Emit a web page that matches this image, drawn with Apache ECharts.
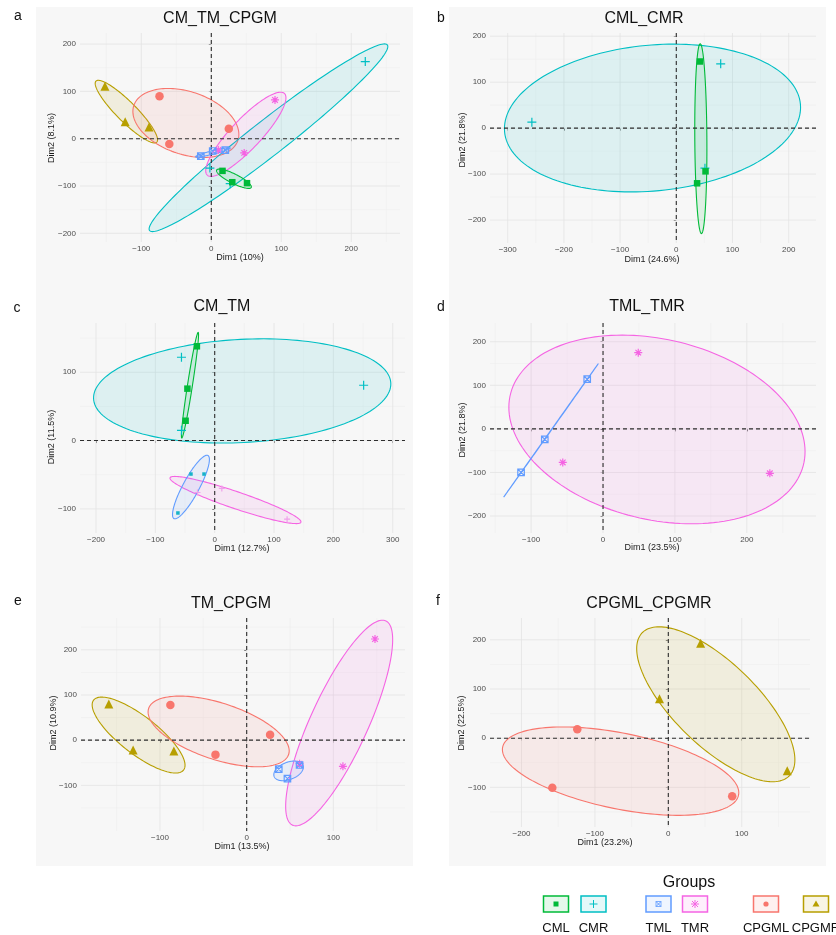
<!DOCTYPE html>
<html>
<head>
<meta charset="utf-8">
<script src="https://cdn.jsdelivr.net/npm/echarts@6/dist/echarts.min.js"></script>
<style>
  html, body { margin: 0; padding: 0; background: #ffffff; }
  #chart { width: 836px; height: 935px; }
</style>
</head>
<body>
<div id="chart"></div>
<script>
// ---------- PCA individual coordinates (Dim1, Dim2) per group ----------
// a: CM_TM_CPGM
const a_CML   = [[16, -68], [30, -92], [51, -94]];
const a_CMR   = [[220, 163], [27, -95], [-2, -62]];
const a_TML   = [[-15, -37], [2, -26], [20, -24]];
const a_TMR   = [[91, 82], [47, -30], [10, -24]];
const a_CPGML = [[-74, 90], [-60, -11], [25, 21]];
const a_CPGMR = [[-152, 111], [-123, 36], [-89, 25]];
// b: CML_CMR
const b_CML = [[42, 145], [52, -94], [37, -120]];
const b_CMR = [[-257, 13], [79, 140], [51, -87]];
// c: CM_TM
const c_CML = [[-30, 138], [-46, 76], [-49, 29]];
const c_CMR = [[-56, 122], [251, 81], [-56, 15]];
const c_TML = [[-40, -49], [-18, -49], [-62, -106]];
const c_TMR = [[12, -70], [122, -115], [-29, -76]];
// d: TML_TMR
const d_TML = [[-114, -100], [-81, -24], [-22, 114]];
const d_TMR = [[49, 175], [-56, -77], [232, -102]];
// e: TM_CPGM
const e_TML   = [[37, -64], [47, -85], [61, -55]];
const e_TMR   = [[148, 224], [111, -58], [61, -52]];
const e_CPGML = [[-88, 78], [-36, -32], [27, 12]];
const e_CPGMR = [[-159, 80], [-131, -22], [-84, -24]];
// f: CPGML_CPGMR
const f_CPGML = [[-124, 18], [-158, -101], [87, -118]];
const f_CPGMR = [[-12, 80], [44, 193], [162, -66]];

// ---------- axis ticks ----------
const aXTicks = [-100, 0, 100, 200],        aYTicks = [-200, -100, 0, 100, 200];
const bXTicks = [-300, -200, -100, 0, 100, 200], bYTicks = [-200, -100, 0, 100, 200];
const cXTicks = [-200, -100, 0, 100, 200, 300],  cYTicks = [-100, 0, 100];
const dXTicks = [-100, 0, 100, 200],        dYTicks = [-200, -100, 0, 100, 200];
const eXTicks = [-100, 0, 100],             eYTicks = [-100, 0, 100, 200];
const fXTicks = [-200, -100, 0, 100],       fYTicks = [-100, 0, 100, 200];

const groupOrder = ['CML', 'CMR', 'TML', 'TMR', 'CPGML', 'CPGMR'];
const groupColors = {
  CML: '#00BA38', CMR: '#00BFC4', TML: '#619CFF',
  TMR: '#F564E3', CPGML: '#F8766D', CPGMR: '#B79F00'
};

// ---------- symbols ----------
const PLUS = 'path://M5,0L5,10M0,5L10,5';
const STAR = 'path://M5,0L5,10M0,5L10,5M1.5,1.5L8.5,8.5M8.5,1.5L1.5,8.5';
const BOXX = 'path://M0,0L10,0L10,10L0,10ZM0,0L10,10M10,0L0,10';
const shapes = {
  CML:   { symbol: 'rect', size: 6.5, filled: true },
  CMR:   { symbol: PLUS, size: 9, filled: false },
  TML:   { symbol: BOXX, size: 6.5, filled: false },
  TMR:   { symbol: STAR, size: 8, filled: false },
  CPGML: { symbol: 'circle', size: 8.5, filled: true },
  CPGMR: { symbol: 'triangle', size: 9, filled: true }
};

// ---------- panels ----------
const panels = [
  { title: 'CM_TM_CPGM', letter: 'a', xName: 'Dim1 (10%)', yName: 'Dim2 (8.1%)',
    x: [-187.6, 269.6], y: [-218.4, 223.5], xTicks: aXTicks, yTicks: aYTicks, level: 0.95,
    groups: { CPGMR: a_CPGMR, CPGML: a_CPGML, CMR: a_CMR, TMR: a_TMR, TML: a_TML, CML: a_CML } },
  { title: 'CML_CMR', letter: 'b', xName: 'Dim1 (24.6%)', yName: 'Dim2 (21.8%)',
    x: [-331.5, 248.6], y: [-249.9, 207], xTicks: bXTicks, yTicks: bYTicks, level: 0.95,
    groups: { CMR: b_CMR, CML: b_CML } },
  { title: 'CM_TM', letter: 'c', xName: 'Dim1 (12.7%)', yName: 'Dim2 (11.5%)',
    x: [-227, 320.7], y: [-135.3, 172.1], xTicks: cXTicks, yTicks: cYTicks, level: 0.95,
    groups: { CMR: c_CMR, CML: c_CML, TMR: c_TMR, TML: c_TML },
    pointStyle: { TML: { symbol: 'rect', size: 3.5, filled: true, color: '#17B3C9' },
                  TMR: { symbol: PLUS, size: 6, filled: false, color: '#EFA0EA' } } },
  { title: 'TML_TMR', letter: 'd', xName: 'Dim1 (23.5%)', yName: 'Dim2 (21.8%)',
    x: [-157.2, 296.2], y: [-239, 243], xTicks: dXTicks, yTicks: dYTicks, level: 0.95,
    groups: { TMR: d_TMR, TML: d_TML } },
  { title: 'TM_CPGM', letter: 'e', xName: 'Dim1 (13.5%)', yName: 'Dim2 (10.9%)',
    x: [-191.1, 182.6], y: [-201.1, 270.5], xTicks: eXTicks, yTicks: eYTicks, level: 0.95,
    groups: { CPGMR: e_CPGMR, CPGML: e_CPGML, TMR: e_TMR, TML: e_TML } },
  { title: 'CPGML_CPGMR', letter: 'f', xName: 'Dim1 (23.2%)', yName: 'Dim2 (22.5%)',
    x: [-242.9, 193], y: [-180.6, 244.4], xTicks: fXTicks, yTicks: fYTicks, level: 0.89,
    groups: { CPGML: f_CPGML, CPGMR: f_CPGMR } }
];

// page layout: plot box [left, top, right, bottom], text anchors
const layout = [
  { box: [80, 33, 400, 242],  title: [220, 19],  letter: [18, 16],  xName: [240, 258], yName: [52, 138] },
  { box: [490, 33, 816, 243], title: [644, 19],  letter: [441, 18], xName: [652, 260], yName: [463, 140] },
  { box: [80, 323, 405, 533], title: [222, 307], letter: [17, 308], xName: [242, 549], yName: [52, 437] },
  { box: [490, 323, 816, 533], title: [647, 307], letter: [441, 307], xName: [652, 548], yName: [463, 430] },
  { box: [81, 618, 405, 831], title: [231, 604], letter: [18, 601], xName: [242, 847], yName: [54, 723] },
  { box: [490, 618, 810, 827], title: [649, 604], letter: [438, 601], xName: [605, 843], yName: [462, 723] }
];

const FONT = '"Liberation Sans", Arial, Helvetica, sans-serif';

function hexToRgba(hex, a) {
  const n = parseInt(hex.slice(1), 16);
  return 'rgba(' + ((n >> 16) & 255) + ',' + ((n >> 8) & 255) + ',' + (n & 255) + ',' + a + ')';
}

// confidence ellipse of the group barycentre (covariance / n)
function confidenceEllipse(pts, level, npoints) {
  const n = pts.length;
  let mx = 0, my = 0;
  pts.forEach(p => { mx += p[0]; my += p[1]; });
  mx /= n; my /= n;
  let sxx = 0, syy = 0, sxy = 0;
  pts.forEach(p => {
    sxx += (p[0] - mx) * (p[0] - mx);
    syy += (p[1] - my) * (p[1] - my);
    sxy += (p[0] - mx) * (p[1] - my);
  });
  sxx /= (n - 1) * n; syy /= (n - 1) * n; sxy /= (n - 1) * n;
  const sx = Math.sqrt(sxx), sy = Math.sqrt(syy);
  let r = sxy / (sx * sy);
  r = Math.max(-1, Math.min(1, r));
  const d = Math.acos(r);
  const t = Math.sqrt(-2 * Math.log(1 - level));
  const out = [];
  for (let i = 0; i < npoints; i++) {
    const a = 2 * Math.PI * i / npoints;
    out.push([t * sx * Math.cos(a + d / 2) + mx, t * sy * Math.cos(a - d / 2) + my]);
  }
  return { center: [mx, my], ring: out };
}

function minorBreaks(ticks, range) {
  const step = ticks[1] - ticks[0];
  const res = [];
  const start = ticks[0] - step;
  for (let v = start + step / 2; v <= range[1]; v += step) {
    if (v >= range[0]) res.push(v);
  }
  return res;
}

function fmt(v) { return v < 0 ? '\u2212' + Math.abs(v) : String(v); }

const grids = [], xAxes = [], yAxes = [], series = [], graphics = [];

// panel backgrounds
graphics.push({ type: 'rect', z: -10, shape: { x: 36, y: 7, width: 377, height: 859 }, style: { fill: '#f7f7f7' }, silent: true });
graphics.push({ type: 'rect', z: -10, shape: { x: 449, y: 7, width: 377, height: 859 }, style: { fill: '#f7f7f7' }, silent: true });

panels.forEach((p, i) => {
  const L = layout[i];
  const [l, t, r, b] = L.box;
  grids.push({ left: l, top: t, width: r - l, height: b - t, containLabel: false });
  xAxes.push({
    gridIndex: i, type: 'value', min: p.x[0], max: p.x[1],
    axisLine: { show: false }, splitLine: { show: false },
    axisTick: { show: true, customValues: p.xTicks, length: 2.5, lineStyle: { color: '#333', width: 0.8 } },
    axisLabel: { customValues: p.xTicks, fontSize: 8, color: '#4d4d4d', margin: 3, fontFamily: FONT, formatter: fmt }
  });
  yAxes.push({
    gridIndex: i, type: 'value', min: p.y[0], max: p.y[1],
    axisLine: { show: false }, splitLine: { show: false },
    axisTick: { show: true, customValues: p.yTicks, length: 2.5, lineStyle: { color: '#333', width: 0.8 } },
    axisLabel: { customValues: p.yTicks, fontSize: 8, color: '#4d4d4d', margin: 4, fontFamily: FONT, formatter: fmt }
  });

  const xMinor = minorBreaks(p.xTicks, p.x), yMinor = minorBreaks(p.yTicks, p.y);

  // background grid lines
  series.push({
    type: 'custom', xAxisIndex: i, yAxisIndex: i, z: 1, silent: true, animation: false,
    data: [[0, 0]],
    renderItem: function (params, api) {
      const cs = params.coordSys;
      const kids = [];
      const vline = (v, col, w) => {
        const px = api.coord([v, 0])[0];
        kids.push({ type: 'line', shape: { x1: px, y1: cs.y, x2: px, y2: cs.y + cs.height }, style: { stroke: col, lineWidth: w } });
      };
      const hline = (v, col, w) => {
        const py = api.coord([0, v])[1];
        kids.push({ type: 'line', shape: { x1: cs.x, y1: py, x2: cs.x + cs.width, y2: py }, style: { stroke: col, lineWidth: w } });
      };
      xMinor.forEach(v => vline(v, '#eeeeee', 0.6));
      yMinor.forEach(v => hline(v, '#eeeeee', 0.6));
      p.xTicks.forEach(v => vline(v, '#e3e3e3', 0.8));
      p.yTicks.forEach(v => hline(v, '#e3e3e3', 0.8));
      return { type: 'group', children: kids };
    }
  });

  // ellipses
  Object.keys(p.groups).forEach(g => {
    const e = confidenceEllipse(p.groups[g], p.level, 160);
    const col = groupColors[g];
    series.push({
      type: 'custom', name: g, xAxisIndex: i, yAxisIndex: i, z: 2, silent: true, animation: false, clip: true,
      data: [e.center],
      renderItem: function (params, api) {
        return {
          type: 'polygon',
          shape: { points: e.ring.map(q => api.coord(q)) },
          style: { fill: hexToRgba(col, 0.1), stroke: col, lineWidth: 1.1 }
        };
      }
    });
  });

  // dashed reference lines at 0
  series.push({
    type: 'custom', xAxisIndex: i, yAxisIndex: i, z: 3, silent: true, animation: false,
    data: [[0, 0]],
    renderItem: function (params, api) {
      const cs = params.coordSys;
      const o = api.coord([0, 0]);
      const st = { stroke: '#2e2e2e', lineWidth: 1.1, lineDash: [4, 3] };
      return { type: 'group', children: [
        { type: 'line', shape: { x1: cs.x, y1: o[1], x2: cs.x + cs.width, y2: o[1] }, style: st },
        { type: 'line', shape: { x1: o[0], y1: cs.y, x2: o[0], y2: cs.y + cs.height }, style: st }
      ] };
    }
  });

  // individuals
  Object.keys(p.groups).forEach(g => {
    const s = (p.pointStyle && p.pointStyle[g]) || shapes[g];
    const col = s.color || groupColors[g];
    series.push({
      type: 'scatter', name: g, xAxisIndex: i, yAxisIndex: i, z: 4, silent: true, animation: false,
      symbol: s.symbol, symbolSize: s.size,
      itemStyle: s.filled
        ? { color: col, borderWidth: 0, opacity: 1 }
        : { color: 'rgba(0,0,0,0)', borderColor: col, borderWidth: 1.2, opacity: 1 },
      data: p.groups[g]
    });
  });

  // panel texts
  graphics.push({ type: 'text', x: L.title[0], y: L.title[1], silent: true,
    style: { text: p.title, fontSize: 16, fontFamily: FONT, fill: '#111', align: 'center', verticalAlign: 'middle' } });
  graphics.push({ type: 'text', x: L.letter[0], y: L.letter[1], silent: true,
    style: { text: p.letter, fontSize: 14, fontFamily: FONT, fill: '#111', align: 'center', verticalAlign: 'middle' } });
  graphics.push({ type: 'text', x: L.xName[0], y: L.xName[1], silent: true,
    style: { text: p.xName, fontSize: 9, fontFamily: FONT, fill: '#1a1a1a', align: 'center', verticalAlign: 'middle' } });
  graphics.push({ type: 'text', x: L.yName[0], y: L.yName[1], rotation: Math.PI / 2, silent: true,
    style: { text: p.yName, fontSize: 9, fontFamily: FONT, fill: '#1a1a1a', align: 'center', verticalAlign: 'middle' } });
});

// ---------- legend ----------
const legendKeyX = { CML: 543.5, CMR: 581, TML: 646, TMR: 682.5, CPGML: 753.5, CPGMR: 803.5 };
graphics.push({ type: 'text', x: 689, y: 883, silent: true,
  style: { text: 'Groups', fontSize: 16, fontFamily: FONT, fill: '#111', align: 'center', verticalAlign: 'middle' } });
groupOrder.forEach(g => {
  const col = groupColors[g];
  const x0 = legendKeyX[g], y0 = 896, w = 25, h = 16;
  const cx = x0 + w / 2, cy = y0 + h / 2;
  const kids = [
    { type: 'rect', shape: { x: x0, y: y0, width: w, height: h }, style: { fill: hexToRgba(col, 0.1), stroke: col, lineWidth: 1.5 } }
  ];
  const ln = (x1, y1, x2, y2) => ({ type: 'line', shape: { x1, y1, x2, y2 }, style: { stroke: col, lineWidth: 1 } });
  if (g === 'CML') kids.push({ type: 'rect', shape: { x: cx - 2.5, y: cy - 2.5, width: 5, height: 5 }, style: { fill: col } });
  if (g === 'CMR') kids.push(ln(cx - 4, cy, cx + 4, cy), ln(cx, cy - 4, cx, cy + 4));
  if (g === 'TML') kids.push({ type: 'rect', shape: { x: cx - 2.5, y: cy - 2.5, width: 5, height: 5 }, style: { fill: 'none', stroke: col, lineWidth: 0.8 } },
                             ln(cx - 2.5, cy - 2.5, cx + 2.5, cy + 2.5), ln(cx + 2.5, cy - 2.5, cx - 2.5, cy + 2.5));
  if (g === 'TMR') kids.push(ln(cx - 4, cy, cx + 4, cy), ln(cx, cy - 4, cx, cy + 4),
                             ln(cx - 3, cy - 3, cx + 3, cy + 3), ln(cx + 3, cy - 3, cx - 3, cy + 3));
  if (g === 'CPGML') kids.push({ type: 'circle', shape: { cx, cy, r: 2.6 }, style: { fill: col } });
  if (g === 'CPGMR') kids.push({ type: 'polygon', shape: { points: [[cx, cy - 3.5], [cx + 3.5, cy + 2.5], [cx - 3.5, cy + 2.5]] }, style: { fill: col } });
  kids.push({ type: 'text', x: cx, y: 928, style: { text: g, fontSize: 13, fontFamily: FONT, fill: '#111', align: 'center', verticalAlign: 'middle' } });
  graphics.push({ type: 'group', silent: true, children: kids });
});

const chart = echarts.init(document.getElementById('chart'), null, { renderer: 'canvas' });
chart.setOption({
  backgroundColor: '#ffffff',
  animation: false,
  grid: grids,
  xAxis: xAxes,
  yAxis: yAxes,
  series: series,
  graphic: { elements: graphics }
});
</script>
</body>
</html>
